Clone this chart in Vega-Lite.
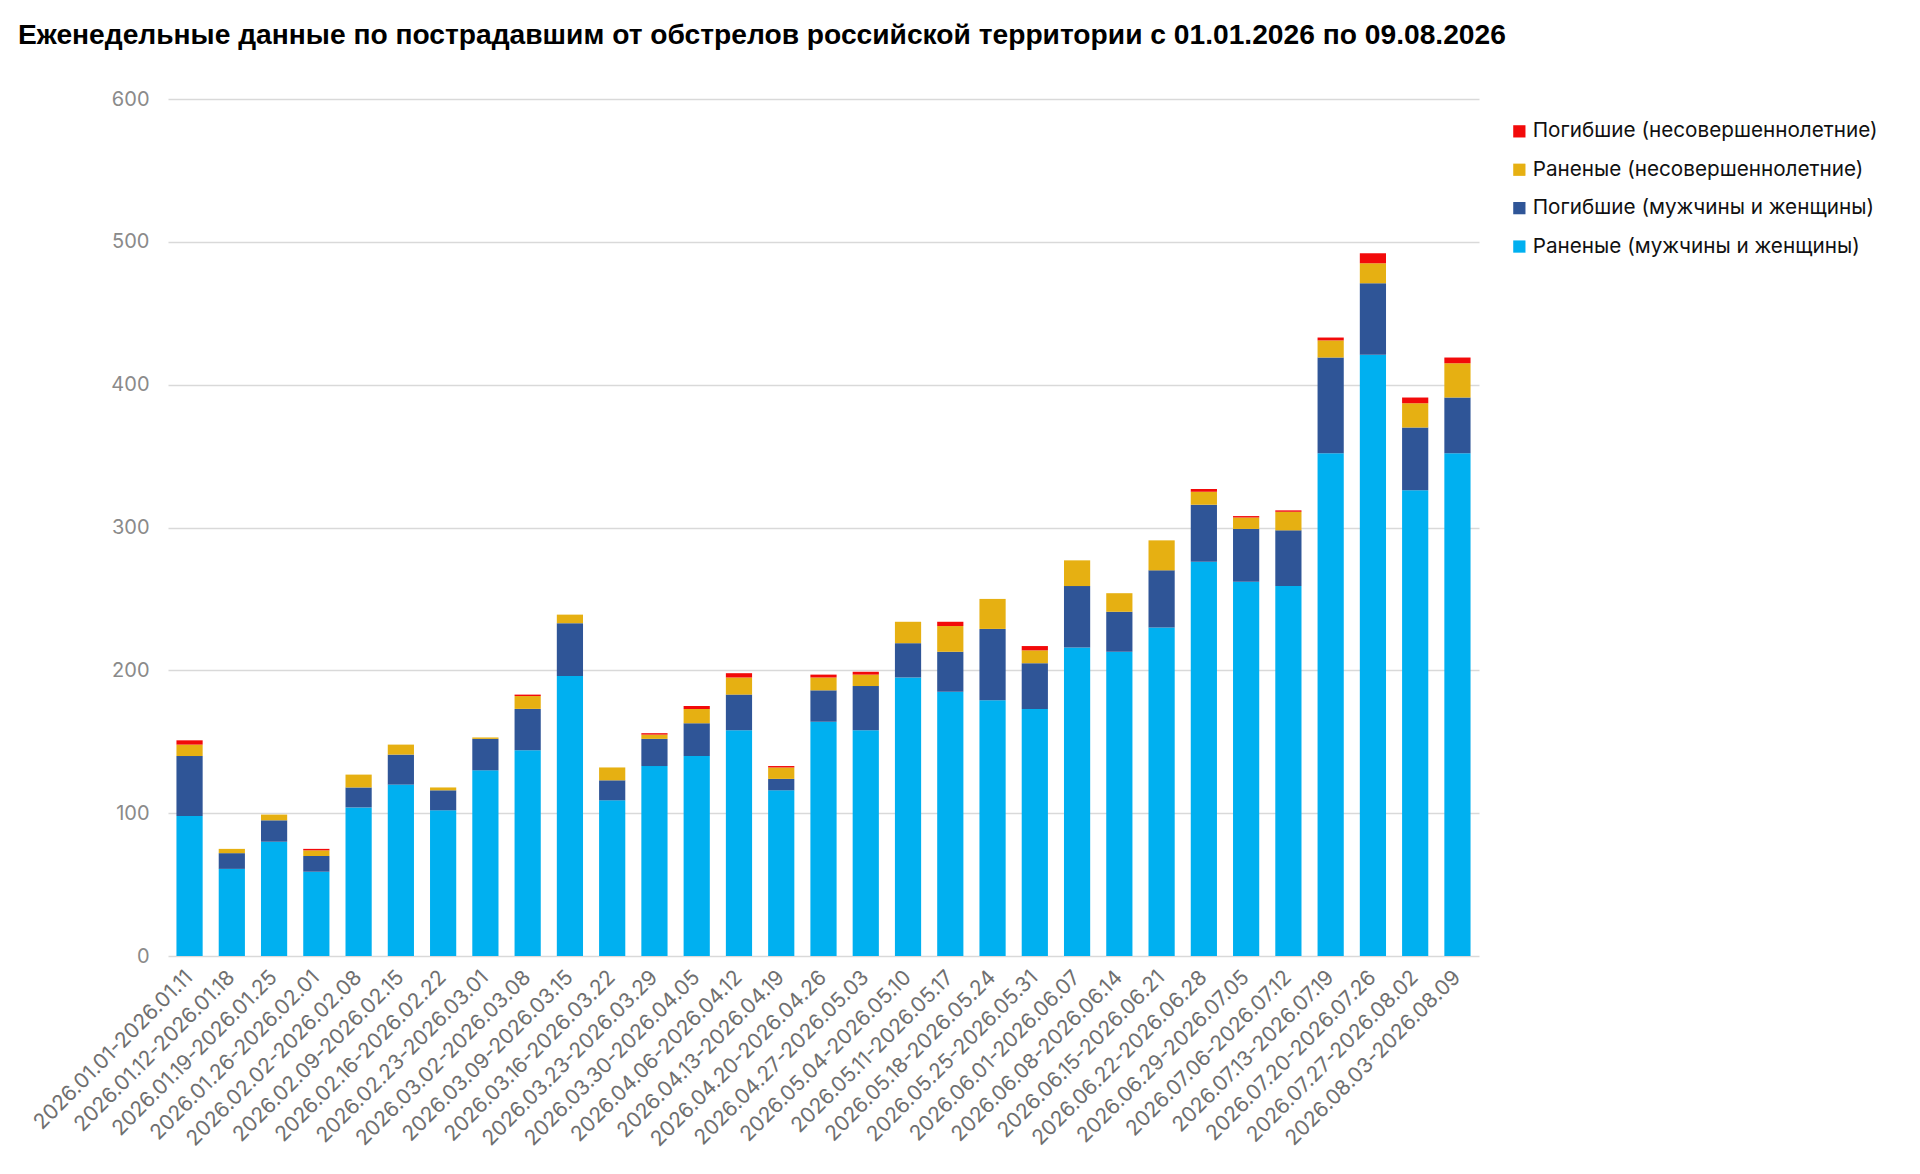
{
  "$schema": "https://vega.github.io/schema/vega-lite/v6.json",
  "width": 1311,
  "height": 857,
  "autosize": {"type": "none"},
  "padding": {"left": 168, "top": 99, "right": 441, "bottom": 218},
  "background": "white",
  "title": {
    "text": "Еженедельные данные по пострадавшим от обстрелов российской территории с 01.01.2026 по 09.08.2026",
    "anchor": "start",
    "frame": "group",
    "dx": -150,
    "offset": 39,
    "font": "Liberation Sans",
    "fontSize": 28.2,
    "fontWeight": "bold",
    "color": "#000000"
  },
  "data": {
    "values": [
      {"week":"2026.01.01-2026.01.11","A":98,"B":42,"C":8,"D":3},
      {"week":"2026.01.12-2026.01.18","A":61,"B":11,"C":3,"D":0},
      {"week":"2026.01.19-2026.01.25","A":80,"B":15,"C":4,"D":0},
      {"week":"2026.01.26-2026.02.01","A":59,"B":11,"C":4,"D":1},
      {"week":"2026.02.02-2026.02.08","A":104,"B":14,"C":9,"D":0},
      {"week":"2026.02.09-2026.02.15","A":120,"B":21,"C":7,"D":0},
      {"week":"2026.02.16-2026.02.22","A":102,"B":14,"C":2,"D":0},
      {"week":"2026.02.23-2026.03.01","A":130,"B":22,"C":1,"D":0},
      {"week":"2026.03.02-2026.03.08","A":144,"B":29,"C":9,"D":1},
      {"week":"2026.03.09-2026.03.15","A":196,"B":37,"C":6,"D":0},
      {"week":"2026.03.16-2026.03.22","A":109,"B":14,"C":9,"D":0},
      {"week":"2026.03.23-2026.03.29","A":133,"B":19,"C":3,"D":1},
      {"week":"2026.03.30-2026.04.05","A":140,"B":23,"C":10,"D":2},
      {"week":"2026.04.06-2026.04.12","A":158,"B":25,"C":12,"D":3},
      {"week":"2026.04.13-2026.04.19","A":116,"B":8,"C":8,"D":1},
      {"week":"2026.04.20-2026.04.26","A":164,"B":22,"C":9,"D":2},
      {"week":"2026.04.27-2026.05.03","A":158,"B":31,"C":8,"D":2},
      {"week":"2026.05.04-2026.05.10","A":195,"B":24,"C":15,"D":0},
      {"week":"2026.05.11-2026.05.17","A":185,"B":28,"C":18,"D":3},
      {"week":"2026.05.18-2026.05.24","A":179,"B":50,"C":21,"D":0},
      {"week":"2026.05.25-2026.05.31","A":173,"B":32,"C":9,"D":3},
      {"week":"2026.06.01-2026.06.07","A":216,"B":43,"C":18,"D":0},
      {"week":"2026.06.08-2026.06.14","A":213,"B":28,"C":13,"D":0},
      {"week":"2026.06.15-2026.06.21","A":230,"B":40,"C":21,"D":0},
      {"week":"2026.06.22-2026.06.28","A":276,"B":40,"C":9,"D":2},
      {"week":"2026.06.29-2026.07.05","A":262,"B":37,"C":8,"D":1},
      {"week":"2026.07.06-2026.07.12","A":259,"B":39,"C":13,"D":1},
      {"week":"2026.07.13-2026.07.19","A":352,"B":67,"C":12,"D":2},
      {"week":"2026.07.20-2026.07.26","A":421,"B":50,"C":14,"D":7},
      {"week":"2026.07.27-2026.08.02","A":326,"B":44,"C":17,"D":4},
      {"week":"2026.08.03-2026.08.09","A":352,"B":39,"C":24,"D":4}
    ]
  },
  "transform": [
    {"fold": ["A", "B", "C", "D"], "as": ["key", "value"]},
    {"lookup": "key", "from": {"data": {"values": [
      {"key":"A","category":"Раненые (мужчины и женщины)","stackOrder":1},
      {"key":"B","category":"Погибшие (мужчины и женщины)","stackOrder":2},
      {"key":"C","category":"Раненые (несовершеннолетние)","stackOrder":3},
      {"key":"D","category":"Погибшие (несовершеннолетние)","stackOrder":4}
    ]}, "key": "key", "fields": ["category", "stackOrder"]}}
  ],
  "mark": {"type": "bar"},
  "encoding": {
    "x": {
      "field": "week",
      "type": "nominal",
      "sort": null,
      "title": null,
      "scale": {"paddingInner": 0.38, "paddingOuter": 0.2},
      "axis": {
        "labelAngle": -45,
        "labelAlign": "right",
        "labelBaseline": "middle",
        "labelPadding": 18,
        "labelFont": "Inter",
        "labelFontSize": 21,
        "labelColor": "#6f6f6f",
        "labelLimit": 400,
        "ticks": false,
        "domain": false,
        "labelOverlap": false
      }
    },
    "y": {
      "field": "value",
      "type": "quantitative",
      "stack": "zero",
      "title": null,
      "scale": {"domain": [0, 600], "nice": false},
      "axis": {
        "values": [0, 100, 200, 300, 400, 500, 600],
        "labelFont": "Inter",
        "labelFontSize": 20,
        "labelColor": "#8a8a8a",
        "labelPadding": 19,
        "ticks": false,
        "domain": false,
        "gridColor": "#d9d9d9",
        "gridWidth": 1.3
      }
    },
    "color": {
      "field": "category",
      "type": "nominal",
      "scale": {
        "domain": ["Погибшие (несовершеннолетние)", "Раненые (несовершеннолетние)", "Погибшие (мужчины и женщины)", "Раненые (мужчины и женщины)"],
        "range": ["#f20a0a", "#e6b012", "#2f5597", "#00b0f0"]
      },
      "legend": {
        "title": null,
        "orient": "none",
        "legendX": 1341,
        "legendY": 22,
        "symbolType": "square",
        "symbolSize": 150,
        "symbolStrokeWidth": 0,
        "labelFont": "Inter",
        "labelFontSize": 20.7,
        "labelColor": "#111111",
        "labelOffset": 3,
        "rowPadding": 16.4,
        "labelLimit": 500
      }
    },
    "order": {"field": "stackOrder", "type": "quantitative"}
  },
  "config": {"view": {"stroke": null}}
}
